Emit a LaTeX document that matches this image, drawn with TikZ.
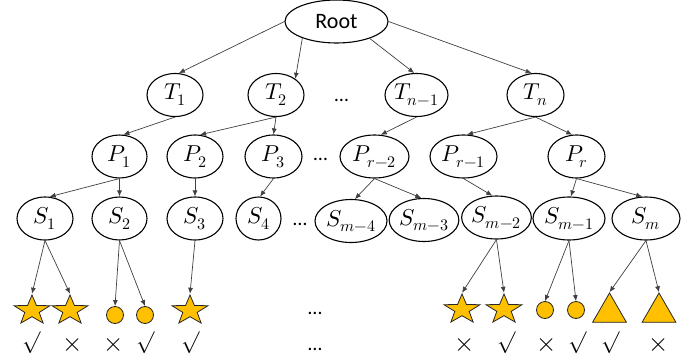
\documentclass[tikz,border=0pt]{standalone}
\usepackage{fontspec}
\usepackage{unicode-math}
\setmathfont{Latin Modern Math}
\setsansfont{Carlito}
\usetikzlibrary{shapes.geometric,arrows.meta}
\definecolor{gold}{HTML}{FFC000}
\definecolor{edgecol}{HTML}{404040}
\tikzset{
  el/.style={draw=black, line width=1.1pt, ellipse, inner sep=0pt, minimum height=43pt, font=\fontsize{23}{27}\selectfont},
  ed/.style={draw=edgecol, line width=0.7pt, -{Latex[length=6pt,width=5pt]}},
  starsh/.style={star, star points=5, star point ratio=2.5, minimum size=31pt, inner sep=0pt, xscale=1.22, fill=gold, draw=black!85, line width=0.8pt},
  circsh/.style={circle, minimum size=17pt, inner sep=0pt, fill=gold, draw=black!85, line width=0.8pt},
  trish/.style={regular polygon, regular polygon sides=3, minimum size=39pt, inner sep=0pt, fill=gold, draw=black!85, line width=0.8pt},
  dotsl/.style={font=\sffamily\fontsize{20}{24}\selectfont, inner sep=0pt},
  marktxt/.style={font=\fontsize{22}{26}\selectfont, inner sep=0pt},
  crosstxt/.style={font=\fontsize{26}{30}\selectfont, inner sep=0pt},
}
\begin{document}
\begin{tikzpicture}[x=1pt,y=-1pt]
\useasboundingbox (0,0) rectangle (699,362);
% level 0
\node[el, minimum width=103pt, font=\sffamily\fontsize{22}{26}\selectfont] (root) at (336.5,21.5) {Root};
% level 1
\node[el, minimum width=56pt] (t1) at (175,95) {$T_1$};
\node[el, minimum width=56pt] (t2) at (276,95) {$T_2$};
\node[el, minimum width=63pt] (tn1) at (416.5,95) {$T_{n-1}$};
\node[el, minimum width=57pt] (tn) at (535.5,95) {$T_n$};
\node[dotsl] (d1) at (341.5,100) {…};
% level 2
\node[el, minimum width=55pt] (p1) at (119.5,156.5) {$P_1$};
\node[el, minimum width=56pt] (p2) at (195,156.5) {$P_2$};
\node[el, minimum width=57pt] (p3) at (273.5,156.5) {$P_3$};
\node[el, minimum width=69pt] (pr2) at (374.5,156.5) {$P_{r-2}$};
\node[el, minimum width=67pt] (pr1) at (463.5,156.5) {$P_{r-1}$};
\node[el, minimum width=57pt] (pr) at (576.5,156.5) {$P_r$};
\node[dotsl] (d2) at (320.5,159) {…};
% level 3
\node[el, minimum width=56pt] (s1) at (45,218.5) {$S_1$};
\node[el, minimum width=55pt] (s2) at (119.5,218.5) {$S_2$};
\node[el, minimum width=56pt] (s3) at (195,218.5) {$S_3$};
\node[el, minimum width=45pt] (s4) at (258.5,218.5) {$S_4$};
\node[el, minimum width=72pt] (sm4) at (351,221) {$S_{m-4}$};
\node[el, minimum width=67pt] (sm3) at (424,220) {$S_{m-3}$};
\node[el, minimum width=63pt] (sm2) at (496.5,217.5) {$S_{m-2}$};
\node[el, minimum width=72pt] (sm1) at (569,218.5) {$S_{m-1}$};
\node[el, minimum width=68pt] (sm) at (646,218.5) {$S_m$};
\node[dotsl] (d3) at (300,224) {…};
% shapes
\node[starsh] (a1) at (32,310.5) {};
\node[starsh] (a2) at (70,310.5) {};
\node[circsh] (c1) at (115,315) {};
\node[circsh] (c2) at (145,315) {};
\node[starsh] (a3) at (190,310.5) {};
\node[starsh] (a4) at (462,309.5) {};
\node[starsh] (a5) at (504,309.5) {};
\node[circsh] (c3) at (545,310) {};
\node[circsh] (c4) at (576,310) {};
\node[trish] (r1) at (609.5,312.5) {};
\node[trish] (r2) at (659,312.5) {};
\node[dotsl] (d4) at (315,313) {…};
% marks
\node[marktxt] (m1) at (32,343) {$\surd$};
\node[crosstxt] (m2) at (73,345) {$\times$};
\node[crosstxt] (m3) at (114,345) {$\times$};
\node[marktxt] (m4) at (146,343) {$\surd$};
\node[marktxt] (m5) at (191,343) {$\surd$};
\node[crosstxt] (m6) at (465,345) {$\times$};
\node[marktxt] (m7) at (507,343) {$\surd$};
\node[crosstxt] (m8) at (547,345) {$\times$};
\node[marktxt] (m9) at (578,343) {$\surd$};
\node[marktxt] (m10) at (611,343) {$\surd$};
\node[crosstxt] (m11) at (659,345) {$\times$};
\node[dotsl] (d5) at (315,349) {…};
% edges level 0-1
\draw[ed] (root.west) -- (t1.80);
\draw[ed] (root.206) -- (t2.40);
\draw[ed] (root.333) -- (tn1.96);
\draw[ed] (root.east) -- (tn.100);
% level 1-2
\draw[ed] (t1.south) -- (p1.80);
\draw[ed] (t2.south) -- (p2.77);
\draw[ed] (t2.south) -- (p3.north);
\draw[ed] (tn1.south) -- (pr2.74);
\draw[ed] (tn.south) -- (pr1.81);
\draw[ed] (tn.south) -- (pr.101);
% level 2-3
\draw[ed] (p1.south) -- (s1.78);
\draw[ed] (p1.south) -- (s2.north);
\draw[ed] (p2.south) -- (s3.north);
\draw[ed] (p3.south) -- (s4.86);
\draw[ed] (pr2.south) -- (sm4.80);
\draw[ed] (pr2.south) -- (sm3.97);
\draw[ed] (pr1.south) -- (sm2.101);
\draw[ed] (pr.south) -- (sm1.85);
\draw[ed] (pr.south) -- (sm.100);
% level 3-shapes
\draw[ed] (s1.south) -- (a1.north);
\draw[ed] (s1.south) -- (a2.north);
\draw[ed] (s2.south) -- (c1.north);
\draw[ed] (s2.south) -- (c2.north);
\draw[ed] (s3.south) -- (a3.north);
\draw[ed] (sm2.south) -- (a4.north);
\draw[ed] (sm2.south) -- (a5.north);
\draw[ed] (sm1.south) -- (c3.north);
\draw[ed] (sm1.south) -- (c4.north);
\draw[ed] (sm.south) -- (r1.north);
\draw[ed] (sm.south) -- (r2.north);
\end{tikzpicture}
\end{document}
